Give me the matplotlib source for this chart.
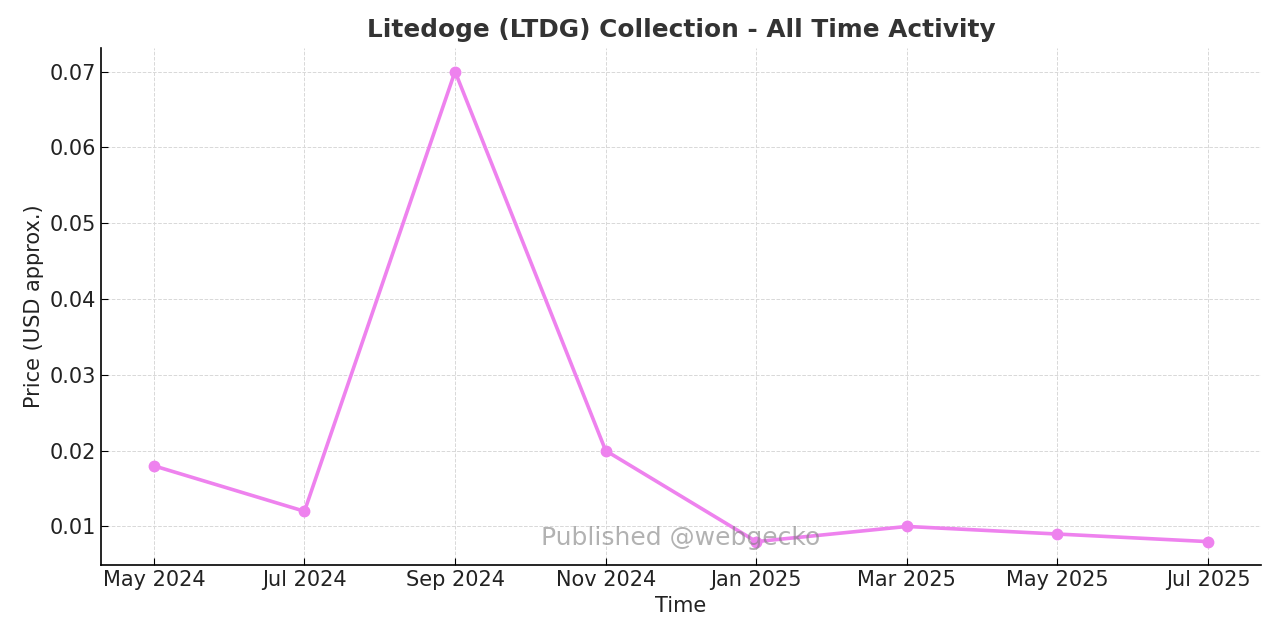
import matplotlib
matplotlib.use("Agg")
import matplotlib.pyplot as plt

# data (months are evenly spaced categories)
months = ["May 2024", "Jul 2024", "Sep 2024", "Nov 2024",
          "Jan 2025", "Mar 2025", "May 2025", "Jul 2025"]
prices = [0.018, 0.012, 0.070, 0.020, 0.008, 0.010, 0.009, 0.008]

fig = plt.figure(figsize=(12.8, 6.4), dpi=100)
ax = fig.add_axes([0.079, 0.117, 0.906, 0.808])

ax.plot(months, prices, color="violet", linewidth=2.6, marker="o", markersize=7.5)

ax.set_title("Litedoge (LTDG) Collection - All Time Activity",
             fontsize=17.8, fontweight="bold", color="#333333", pad=8)
ax.set_xlabel("Time", fontsize=15, color="#222222")
ax.set_ylabel("Price (USD approx.)", fontsize=15, color="#222222")

ax.tick_params(axis="both", direction="in", labelsize=15, length=5,
               labelcolor="#222222")

ax.grid(True, linestyle="--", linewidth=0.7, color="#d8d8d8")
ax.spines["top"].set_visible(False)
ax.spines["right"].set_visible(False)
ax.spines["left"].set_linewidth(1.2)
ax.spines["bottom"].set_linewidth(1.2)

ax.text(0.5, 0.052, "Published @webgecko", transform=ax.transAxes,
        ha="center", va="center", fontsize=18, color="gray", alpha=0.6)

fig.savefig("out.png", dpi=100)
